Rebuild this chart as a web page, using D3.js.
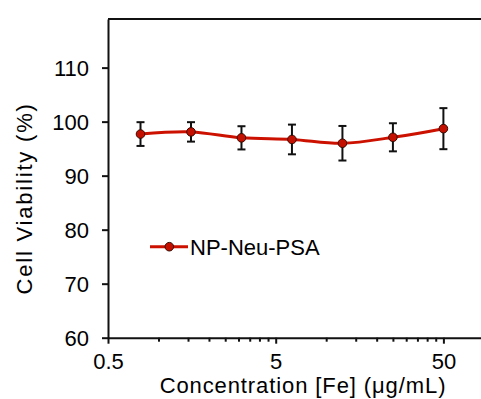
<!DOCTYPE html>
<html>
<head>
<meta charset="utf-8">
<script src="https://cdn.jsdelivr.net/npm/d3@7"></script>
<style>
  body { margin: 0; background: #fff; }
  svg { display: block; font-family: "Liberation Sans", Arial, sans-serif; }
</style>
</head>
<body>
<svg id="chart"></svg>
<script>
// data
const concentrations = [0.78125, 1.5625, 3.125, 6.25, 12.5, 25, 50];
const viability = [97.7, 98.1, 97.0, 96.7, 96.0, 97.1, 98.7];
const errors = [2.2, 1.8, 2.15, 2.75, 3.2, 2.6, 3.8];
const yTicks = [60, 70, 80, 90, 100, 110];
const xMajorTicks = [0.5, 5, 50];
const seriesName = "NP-Neu-PSA";

const width = 481, height = 399;
const plotLeft = 108, plotBottom = 337.7, plotTop = 19;
const decade = 167.7;

const svg = d3.select("#chart")
  .attr("width", width)
  .attr("height", height);

const x = d3.scaleLog()
  .domain([0.5, 100])
  .range([plotLeft, plotLeft + decade * Math.log10(200)]);

const y = d3.scaleLinear()
  .domain([60, 119])
  .range([plotBottom, plotTop]);

// minor ticks at 0.5*k inside each decade
const xMinorTicks = [];
xMajorTicks.forEach(m => {
  for (let k = 2; k <= 9; k++) xMinorTicks.push(m * k);
});

// top border
svg.append("line")
  .attr("x1", plotLeft)
  .attr("x2", width + 5)
  .attr("y1", y(119))
  .attr("y2", y(119))
  .attr("stroke", "#111")
  .attr("stroke-width", 2);

// minor ticks x
svg.append("g")
  .attr("transform", `translate(0,${plotBottom})`)
  .call(d3.axisBottom(x).tickValues(xMinorTicks).tickSize(4).tickSizeOuter(0).tickFormat(""))
  .call(g => g.select(".domain").remove())
  .call(g => g.selectAll("line").attr("stroke", "#111").attr("stroke-width", 2));

// major ticks x
const xAxis = svg.append("g")
  .attr("transform", `translate(0,${plotBottom})`)
  .call(d3.axisBottom(x).tickValues(xMajorTicks).tickSize(6).tickSizeOuter(0).tickFormat(d3.format("")));
xAxis.select(".domain").attr("stroke", "#111").attr("stroke-width", 2);
xAxis.selectAll("line").attr("stroke", "#111").attr("stroke-width", 2);
xAxis.selectAll("text")
  .attr("fill", "#000")
  .attr("y", 15.5)
  .style("font-size", "22px");

// y axis
const yAxis = svg.append("g")
  .attr("transform", `translate(${plotLeft},0)`)
  .call(d3.axisLeft(y).tickValues(yTicks).tickSize(6).tickSizeOuter(0));
yAxis.select(".domain").attr("stroke", "#111").attr("stroke-width", 2);
yAxis.selectAll("line").attr("stroke", "#111").attr("stroke-width", 2);
yAxis.selectAll("text")
  .attr("fill", "#000")
  .attr("x", -19)
  .attr("dy", "0.36em")
  .style("font-size", "22px");

// axis titles
svg.append("text")
  .attr("x", 303)
  .attr("y", 392.5)
  .attr("text-anchor", "middle")
  .style("font-size", "22px")
  .style("letter-spacing", "0.9px")
  .text("Concentration [Fe] (μg/mL)");

svg.append("text")
  .attr("transform", "translate(31.5,198.4) rotate(-90)")
  .attr("text-anchor", "middle")
  .style("font-size", "22px")
  .style("letter-spacing", "1.8px")
  .text("Cell Viability (%)");

const pts = concentrations.map((c, i) => ({ c, v: viability[i], e: errors[i] }));

// error bars
const eb = svg.append("g").attr("stroke", "#111").attr("stroke-width", 2);
pts.forEach(d => {
  eb.append("line")
    .attr("x1", x(d.c)).attr("x2", x(d.c))
    .attr("y1", y(d.v - d.e)).attr("y2", y(d.v + d.e));
  [d.v - d.e, d.v + d.e].forEach(val => {
    eb.append("line")
      .attr("x1", x(d.c) - 4).attr("x2", x(d.c) + 4)
      .attr("y1", y(val)).attr("y2", y(val));
  });
});

// smoothed line
const line = d3.line()
  .x(d => x(d.c))
  .y(d => y(d.v))
  .curve(d3.curveCatmullRom.alpha(0.5));

svg.append("path")
  .datum(pts)
  .attr("fill", "none")
  .attr("stroke", "#cc1100")
  .attr("stroke-width", 3)
  .attr("d", line);

svg.selectAll("circle.pt")
  .data(pts)
  .enter()
  .append("circle")
  .attr("class", "pt")
  .attr("cx", d => x(d.c))
  .attr("cy", d => y(d.v))
  .attr("r", 4.3)
  .attr("fill", "#c41000")
  .attr("stroke", "#3a0a00")
  .attr("stroke-width", 1);

// legend
const lg = svg.append("g").attr("transform", "translate(150,246.7)");
lg.append("line")
  .attr("x1", 0).attr("x2", 38)
  .attr("stroke", "#cc1100")
  .attr("stroke-width", 3);
lg.append("circle")
  .attr("cx", 19.3)
  .attr("r", 4.3)
  .attr("fill", "#c41000")
  .attr("stroke", "#3a0a00")
  .attr("stroke-width", 1);
lg.append("text")
  .attr("x", 40)
  .attr("dy", "0.36em")
  .style("font-size", "22px")
  .text(seriesName);
</script>
</body>
</html>
